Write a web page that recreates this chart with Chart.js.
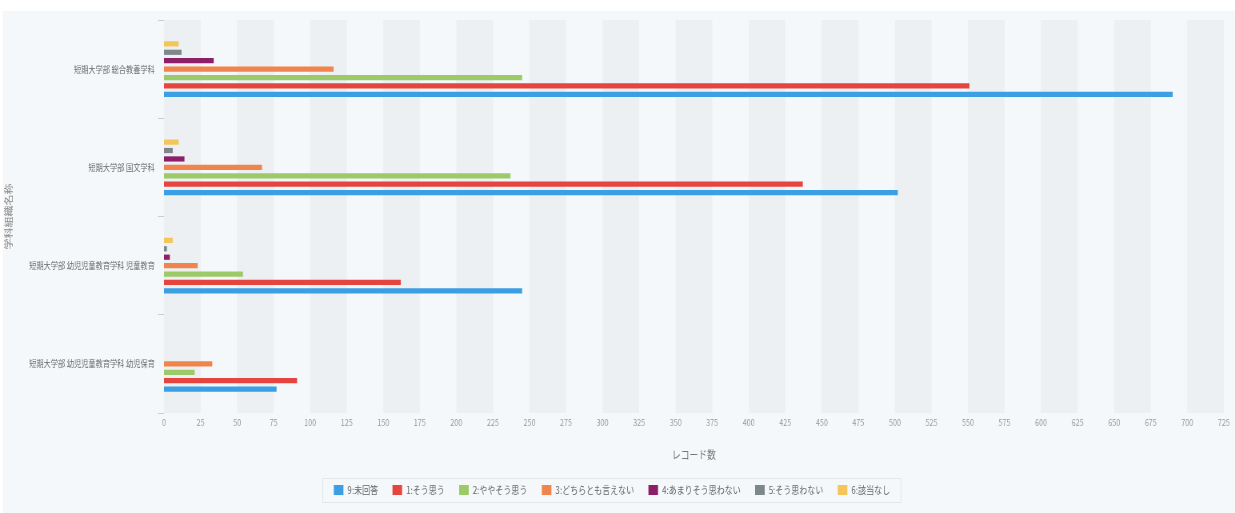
<!DOCTYPE html>
<html>
<head>
<meta charset="utf-8">
<script src="https://cdn.jsdelivr.net/npm/chart.js@4/dist/chart.umd.min.js"></script>
<style>
  html, body { margin: 0; padding: 0; background: #ffffff; overflow: hidden; }
  #c { position: absolute; left: 0; top: 0; width: 1235px; height: 513px; }
</style>
</head>
<body>
<!-- canvas is drawn 1.25x wider and shown at 1235px so the text is horizontally condensed like the reference -->
<canvas id="c" width="1544" height="513" style="width:1235px;height:513px"></canvas>
<script>
// ---- data ----
const categories = [
  '短期大学部 総合教養学科',
  '短期大学部 国文学科',
  '短期大学部 幼児児童教育学科 児童教育',
  '短期大学部 幼児児童教育学科 幼児保育'
];
const seriesNames = ['9:未回答', '1:そう思う', '2:ややそう思う', '3:どちらとも言えない', '4:あまりそう思わない', '5:そう思わない', '6:該当なし'];
const s9 = [690, 502, 245, 77];
const s1 = [551, 437, 162, 91];
const s2 = [245, 237, 54, 21];
const s3 = [116, 67, 23, 33];
const s4 = [34, 14, 4, 0];
const s5 = [12, 6, 2, 0];
const s6 = [10, 10, 6, 0];
const xTickStep = 25;
const xMax = 725;
const xTitle = 'レコード数';
const yTitle = '学科組織名称';

const K = 1.25; // horizontal canvas stretch factor
const colors = ['#3a9fe3', '#e6453f', '#9dca68', '#f0844c', '#8c1f68', '#7e878a', '#f4c558'];
const seriesValues = [s9, s1, s2, s3, s4, s5, s6];

// datasets ordered so that 6 is at top and 9 at bottom within each group
const datasets = [];
for (let i = seriesValues.length - 1; i >= 0; i--) {
  datasets.push({
    label: seriesNames[i],
    data: seriesValues[i],
    backgroundColor: colors[i],
    borderWidth: 0,
    categoryPercentage: 0.6,
    barPercentage: 0.62
  });
}

const FONT = "'Noto Sans CJK JP', 'Noto Sans', sans-serif";

const bgPlugin = {
  id: 'bg',
  beforeDraw(chart) {
    const ctx = chart.ctx;
    ctx.save();
    ctx.fillStyle = '#f5f8fa';
    ctx.fillRect(3 * K, 11, chart.width - 3 * K, chart.height - 11);
    ctx.restore();
  }
};

const bandPlugin = {
  id: 'bands',
  beforeDatasetsDraw(chart) {
    const x = chart.scales.x;
    const a = chart.chartArea;
    const ctx = chart.ctx;
    ctx.save();
    ctx.fillStyle = '#edf0f2';
    for (let v = 0; v < xMax; v += 2 * xTickStep) {
      const p0 = x.getPixelForValue(v);
      const p1 = x.getPixelForValue(Math.min(v + xTickStep, xMax));
      ctx.fillRect(p0, a.top, p1 - p0, a.bottom - a.top);
    }
    ctx.restore();
  }
};

const legendBoxPlugin = {
  id: 'legendBox',
  afterDraw(chart) {
    const lg = chart.legend;
    if (!lg || !lg.legendHitBoxes || !lg.legendHitBoxes.length) return;
    let l = Infinity, r = -Infinity, t = Infinity, b = -Infinity;
    lg.legendHitBoxes.forEach(h => {
      l = Math.min(l, h.left); r = Math.max(r, h.left + h.width);
      t = Math.min(t, h.top); b = Math.max(b, h.top + h.height);
    });
    const ctx = chart.ctx;
    ctx.save();
    ctx.strokeStyle = '#e3e7ea';
    ctx.lineWidth = 1;
    ctx.strokeRect(Math.round(l - 14) + 0.5, Math.round(t - 7) + 0.5, Math.round(r - l + 28), Math.round(b - t + 14));
    ctx.restore();
  }
};

new Chart(document.getElementById('c'), {
  type: 'bar',
  data: { labels: categories, datasets: datasets },
  options: {
    indexAxis: 'y',
    responsive: false,
    animation: false,
    maintainAspectRatio: false,
    devicePixelRatio: 1,
    layout: { padding: { top: 20, right: 14, bottom: 8, left: 0 } },
    scales: {
      x: {
        min: 0,
        max: xMax,
        afterFit(scale) { scale.height = 54; },
        ticks: { stepSize: xTickStep, color: '#9a9a9a', font: { family: FONT, size: 9 }, padding: -4, maxRotation: 0, autoSkip: false },
        grid: { display: false },
        border: { display: false },
        title: { display: true, text: xTitle, color: '#777', font: { family: FONT, size: 11 }, padding: { top: 0, bottom: 6 } }
      },
      y: {
        afterFit(scale) { scale.width = 164 * K; },
        ticks: { color: '#6a6a6a', font: { family: FONT, size: 9 }, padding: 4 },
        grid: { display: true, offset: true, drawOnChartArea: false, drawTicks: true, tickLength: 7.5, color: '#cccccc' },
        border: { display: false },
        title: { display: true, text: yTitle, color: '#888', font: { family: FONT, size: 11 }, padding: { top: 4, bottom: 0 } }
      }
    },
    plugins: {
      legend: {
        position: 'bottom',
        reverse: true,
        labels: { boxWidth: 12, boxHeight: 10, color: '#666', font: { family: FONT, size: 10 }, padding: 18 }
      },
      tooltip: { enabled: false }
    }
  },
  plugins: [bgPlugin, bandPlugin, legendBoxPlugin]
});
</script>
</body>
</html>
